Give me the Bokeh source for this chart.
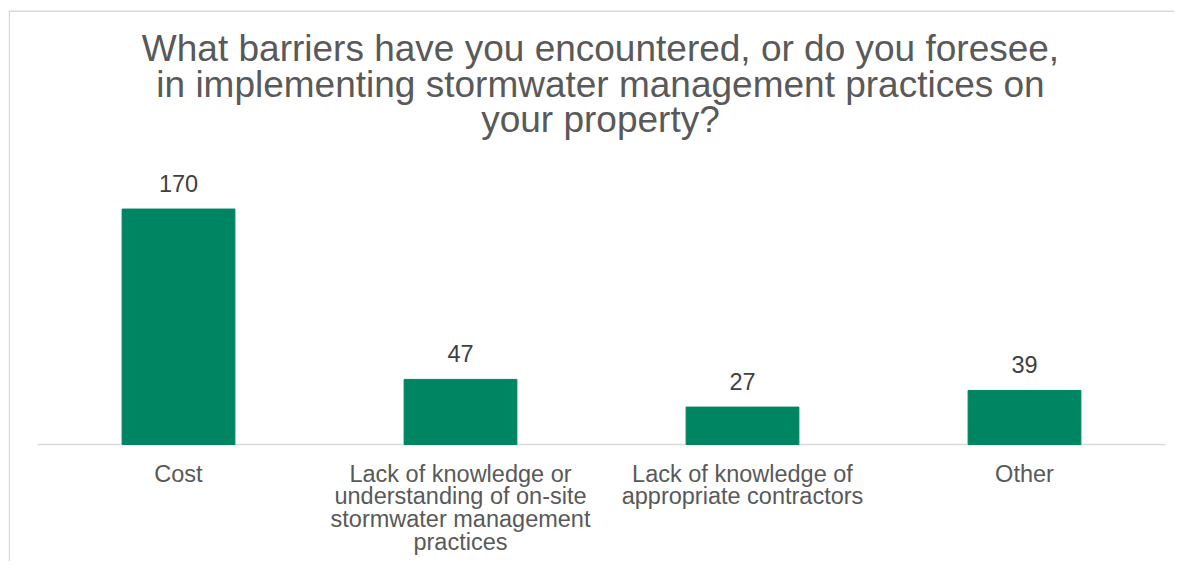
from bokeh.plotting import figure
from bokeh.models import Range1d, LabelSet, ColumnDataSource, Label, BoxAnnotation
from bokeh.core.properties import value
from bokeh.embed import file_html
from bokeh.resources import INLINE

categories = ["Cost",
              "Lack of knowledge or understanding of on-site stormwater management practices",
              "Lack of knowledge of appropriate contractors",
              "Other"]
tick_label_lines = [["Cost"],
                    ["Lack of knowledge or", "understanding of on-site",
                     "stormwater management", "practices"],
                    ["Lack of knowledge of", "appropriate contractors"],
                    ["Other"]]
values = [170, 47, 27, 39]
title_lines = ["What barriers have you encountered, or do you foresee,",
               "in implementing stormwater management practices on",
               "your property?"]

FONT = "Liberation Sans"
W, H = 1174, 561
LEFT = 8                      # frame left edge (canvas px)
STEP = 282.0                  # px per category
CX0 = 178.0                   # centre of first category (canvas px)
BASE = 444.0                  # baseline (canvas px)
PXU = 1.385                   # px per unit of value
BORDER = "#d9d9d9"

xs = list(range(len(categories)))
src = ColumnDataSource(dict(x=xs, val=values, txt=[str(v) for v in values]))

x0 = -(CX0 - LEFT) / STEP
x_range = Range1d(x0, x0 + (W - LEFT) / STEP)
y_range = Range1d(-(H - BASE) / PXU, BASE / PXU)

p = figure(width=W, height=H, x_range=x_range, y_range=y_range,
           output_backend="svg", toolbar_location=None,
           x_axis_location=None, y_axis_location=None,
           min_border_left=LEFT, min_border_right=0, min_border_top=0, min_border_bottom=0)
p.xgrid.grid_line_color = None
p.ygrid.grid_line_color = None
p.outline_line_color = None
p.background_fill_color = "white"
p.border_fill_color = "white"

# chart-area border: only its top and left edges fall inside the window
p.add_layout(BoxAnnotation(left=0, right=1.5, top=H - 10, bottom=-100,
                           left_units="screen", right_units="screen",
                           top_units="screen", bottom_units="screen",
                           fill_color=BORDER, fill_alpha=1, line_color=None))
p.add_layout(BoxAnnotation(left=0, right=W + 100, top=H - 10, bottom=H - 11.5,
                           left_units="screen", right_units="screen",
                           top_units="screen", bottom_units="screen",
                           fill_color=BORDER, fill_alpha=1, line_color=None))

# baseline across the category extent
p.segment(x0=[-0.5], y0=[0], x1=[len(categories) - 0.5], y1=[0],
          line_color=BORDER, line_width=1.5)

p.vbar(x="x", top="val", width=0.4, source=src, fill_color="#008562", line_color="#008562")

# value labels
p.add_layout(LabelSet(x="x", y="val", text="txt", source=src, y_offset=17.5,
                      text_align="center", text_baseline="alphabetic",
                      text_font=value(FONT), text_font_size="23.5px", text_color="#404040"))

# category labels, one row per text line
for i in range(4):
    cx = [x for x, ls in zip(xs, tick_label_lines) if len(ls) > i]
    txts = [ls[i] for ls in tick_label_lines if len(ls) > i]
    s = ColumnDataSource(dict(x=cx, y=[0] * len(cx), txt=txts))
    p.add_layout(LabelSet(x="x", y="y", text="txt", source=s, y_offset=-(37 + 22.9 * i),
                          text_align="center", text_baseline="alphabetic",
                          text_font=value(FONT), text_font_size="23.5px",
                          text_color="#595959"))

# title
for i, line in enumerate(title_lines):
    p.add_layout(Label(x=600 - LEFT, y=H - (48 + i * 35.7), x_units="screen", y_units="screen",
                       text=line, text_align="center", text_baseline="alphabetic",
                       text_font=FONT, text_font_size="37px", text_color="#595959"))

open("out.html", "w").write(file_html(p, INLINE))
